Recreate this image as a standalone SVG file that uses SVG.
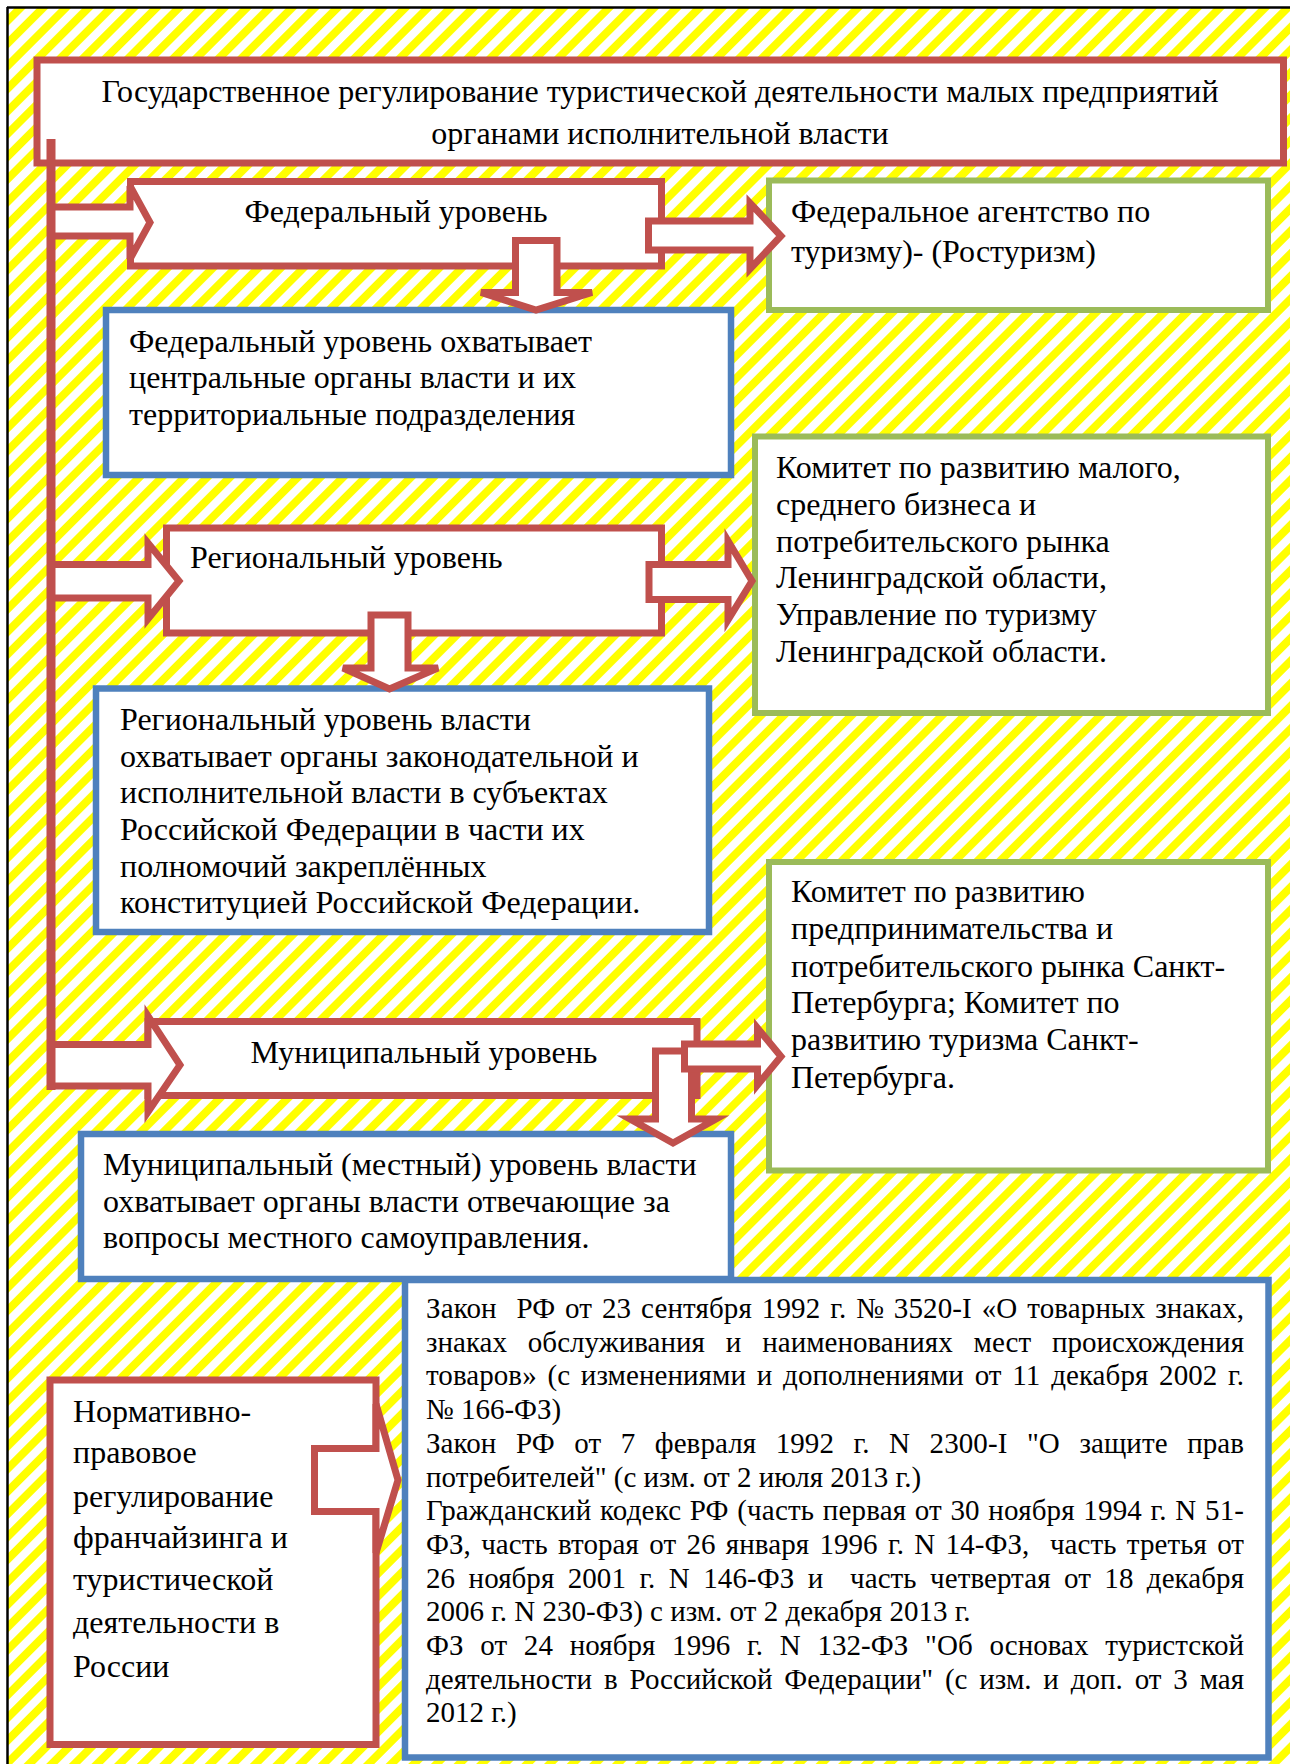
<svg xmlns="http://www.w3.org/2000/svg" width="1290" height="1764" viewBox="0 0 1290 1764">
<defs>
<pattern id="stripes" width="16" height="16" patternUnits="userSpaceOnUse" patternTransform="rotate(45)">
<rect width="16" height="16" fill="#ffffff"/>
<rect width="8" height="16" fill="#ffff00"/>
</pattern>
<style>
.t{font-family:'Liberation Serif',serif;font-size:32px;fill:#000}
.s{font-family:'Liberation Serif',serif;font-size:29px;fill:#000;white-space:pre}
.red{fill:#fff;stroke:#C0504D;stroke-width:7}
.blue{fill:#fff;stroke:#4F81BD;stroke-width:6.5}
.green{fill:#fff;stroke:#9BBB59;stroke-width:6}
.arr{fill:#fff;stroke:#C0504D;stroke-width:7;stroke-linejoin:miter}
.mid{text-anchor:middle}
</style>
</defs>
<rect x="0" y="0" width="1290" height="1764" fill="#fff"/>
<rect x="8" y="8" width="1282" height="1756" fill="url(#stripes)"/>
<line x1="7" y1="7.5" x2="1290" y2="7.5" stroke="#000" stroke-width="2.5"/>
<line x1="7.5" y1="7" x2="7.5" y2="1764" stroke="#000" stroke-width="2.5"/>

<g id="title" font-family="Liberation Serif">
<rect class="red" x="37" y="60" width="1246.5" height="103"/>
<text class="t mid" x="660" y="102">Государственное регулирование туристической деятельности малых предприятий</text>
<text class="t mid" x="660" y="144">органами исполнительной власти</text>
</g>

<g id="federal" font-family="Liberation Serif">
<rect class="red" x="130.5" y="181.5" width="531" height="84.5"/>
<text class="t mid" x="396" y="222">Федеральный уровень</text>
</g>

<g id="rosturizm" font-family="Liberation Serif">
<rect class="green" x="769" y="180.5" width="499" height="129.5"/>
<text class="t" x="791" y="222">Федеральное агентство по</text>
<text class="t" x="791" y="262">туризму)- (Ростуризм)</text>
</g>

<g id="federal-desc" font-family="Liberation Serif">
<rect class="blue" x="106" y="310" width="625" height="165"/>
<text class="t" x="129" y="352">Федеральный уровень охватывает</text>
<text class="t" x="129" y="388">центральные органы власти и их</text>
<text class="t" x="129" y="425">территориальные подразделения</text>
</g>

<g id="regional" font-family="Liberation Serif">
<rect class="red" x="166.5" y="528" width="495" height="105"/>
<text class="t" x="190" y="568">Региональный уровень</text>
</g>

<g id="leningrad" font-family="Liberation Serif">
<rect class="green" x="755" y="436.5" width="513" height="276.5"/>
<text class="t" x="776" y="478">Комитет по развитию малого,</text>
<text class="t" x="776" y="515">среднего бизнеса и</text>
<text class="t" x="776" y="552">потребительского рынка</text>
<text class="t" x="776" y="588">Ленинградской области,</text>
<text class="t" x="776" y="625">Управление по туризму</text>
<text class="t" x="776" y="662">Ленинградской области.</text>
</g>

<g id="regional-desc" font-family="Liberation Serif">
<rect class="blue" x="96" y="688.5" width="613" height="243.5"/>
<text class="t" x="120" y="730">Региональный уровень власти</text>
<text class="t" x="120" y="767">охватывает органы законодательной и</text>
<text class="t" x="120" y="803">исполнительной власти в субъектах</text>
<text class="t" x="120" y="840">Российской Федерации в части их</text>
<text class="t" x="120" y="877">полномочий закреплённых</text>
<text class="t" x="120" y="913">конституцией Российской Федерации.</text>
</g>

<g id="spb" font-family="Liberation Serif">
<rect class="green" x="769" y="862" width="499" height="308.5"/>
<text class="t" x="791" y="902">Комитет по развитию</text>
<text class="t" x="791" y="939">предпринимательства и</text>
<text class="t" x="791" y="977">потребительского рынка Санкт-</text>
<text class="t" x="791" y="1013">Петербурга; Комитет по</text>
<text class="t" x="791" y="1050">развитию туризма Санкт-</text>
<text class="t" x="791" y="1088">Петербурга.</text>
</g>

<g id="municipal" font-family="Liberation Serif">
<rect class="red" x="148" y="1021.5" width="549" height="74"/>
<text class="t mid" x="424" y="1063">Муниципальный уровень</text>
</g>

<g id="municipal-desc" font-family="Liberation Serif">
<rect class="blue" x="81" y="1134" width="650" height="145"/>
<text class="t" x="103" y="1175">Муниципальный (местный) уровень власти</text>
<text class="t" x="103" y="1212">охватывает органы власти отвечающие за</text>
<text class="t" x="103" y="1248">вопросы местного самоуправления.</text>
</g>

<g id="laws" font-family="Liberation Serif">
<rect class="blue" x="405" y="1280" width="863.5" height="477.5"/>
<text class="s" x="426" y="1318" word-spacing="2.5" textLength="818" lengthAdjust="spacing">Закон  РФ от 23 сентября 1992 г. № 3520-I «О товарных знаках,</text>
<text class="s" x="426" y="1351.7" word-spacing="13.6" textLength="818" lengthAdjust="spacing">знаках обслуживания и наименованиях мест происхождения</text>
<text class="s" x="426" y="1385.4" word-spacing="3.4" textLength="818" lengthAdjust="spacing">товаров» (с изменениями и дополнениями от 11 декабря 2002 г.</text>
<text class="s" x="426" y="1419.1">№ 166-ФЗ)</text>
<text class="s" x="426" y="1452.8" word-spacing="12.2" textLength="818" lengthAdjust="spacing">Закон РФ от 7 февраля 1992 г. N 2300-I "О защите прав</text>
<text class="s" x="426" y="1486.5">потребителей" (с изм. от 2 июля 2013 г.)</text>
<text class="s" x="426" y="1520.2" word-spacing="1.1" textLength="818" lengthAdjust="spacing">Гражданский кодекс РФ (часть первая от 30 ноября 1994 г. N 51-</text>
<text class="s" x="426" y="1553.9" word-spacing="3" textLength="818" lengthAdjust="spacing">ФЗ, часть вторая от 26 января 1996 г. N 14-ФЗ,  часть третья от</text>
<text class="s" x="426" y="1587.6" word-spacing="6.1" textLength="818" lengthAdjust="spacing">26 ноября 2001 г. N 146-ФЗ и  часть четвертая от 18 декабря</text>
<text class="s" x="426" y="1621.3">2006 г. N 230-ФЗ) с изм. от 2 декабря 2013 г.</text>
<text class="s" x="426" y="1655" word-spacing="9.4" textLength="818" lengthAdjust="spacing">ФЗ от 24 ноября 1996 г. N 132-ФЗ "Об основах туристской</text>
<text class="s" x="426" y="1688.7" word-spacing="4.6" textLength="818" lengthAdjust="spacing">деятельности в Российской Федерации" (с изм. и доп. от 3 мая</text>
<text class="s" x="426" y="1722.4">2012 г.)</text>
</g>

<g id="normative" font-family="Liberation Serif">
<rect class="red" x="50" y="1380" width="326" height="364.5"/>
<text class="t" x="73" y="1422">Нормативно-</text>
<text class="t" x="73" y="1463">правовое</text>
<text class="t" x="73" y="1507">регулирование</text>
<text class="t" x="73" y="1548">франчайзинга и</text>
<text class="t" x="73" y="1590">туристической</text>
<text class="t" x="73" y="1633">деятельности в</text>
<text class="t" x="73" y="1677">России</text>
</g>

<g id="connectors">
<polygon class="arr" points="51,207 130,207 130,186 150,222.5 130,259 130,236 51,236"/>
<polygon class="arr" points="51,564.5 148,564.5 148,543 179,581 148,619 148,598 51,598"/>
<polygon class="arr" points="51,1044.5 148,1044.5 148,1016 180,1065 148,1112 148,1086 51,1086"/>
<polygon class="arr" points="648.5,221 750,221 750,203 781,236 750,269 750,250 648.5,250"/>
<polygon class="arr" points="649,564.5 728,564.5 728,541 752,581 728,620 728,599.5 649,599.5"/>
<polygon class="arr" points="515.5,240.5 557,240.5 557,292.5 592,292.5 536,310 481,292.5 515.5,292.5"/>
<polygon class="arr" points="371,615 408,615 408,668 438,668 389.5,689 343,668 371,668"/>
<polygon class="arr" points="655.5,1051 691.5,1051 691.5,1119 716,1119 673,1143 630,1119 655.5,1119"/>
<polygon class="arr" points="684.5,1044 757.5,1044 757.5,1028 781,1056.5 757.5,1085 757.5,1069 684.5,1069"/>
<polygon class="arr" points="314.5,1448.5 376,1448.5 376,1404 398,1480 376,1553 376,1511.5 314.5,1511.5"/>
<rect x="46.5" y="139" width="9" height="951" fill="#C0504D"/>
</g>
</svg>
